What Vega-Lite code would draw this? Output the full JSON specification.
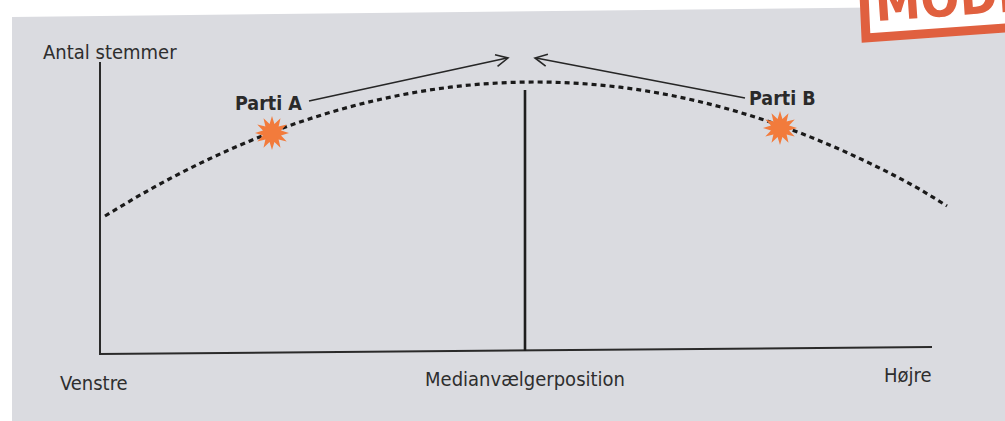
{
  "$schema": "https://vega.github.io/schema/vega-lite/v6.json",
  "width": 1005,
  "height": 421,
  "autosize": {"type": "fit", "contains": "padding"},
  "padding": 0,
  "background": "white",
  "config": {"view": {"stroke": null}},
  "datasets": {
    "bg": [{"x": 12, "y": 17, "y2": 421}, {"x": 1005, "y": 6, "y2": 421}],
    "stampFill": [{"x": 866, "y": -10, "y2": 38}, {"x": 1005, "y": -10, "y2": 28}],
    "stampBorder": [{"o": 1, "x": 864, "y": -6}, {"o": 2, "x": 866, "y": 38}, {"o": 3, "x": 1012, "y": 27.5}],
    "stampText": [{"x": 876, "y": 21, "t": "MODEL"}],
    "curve": [
      {"x": 105, "y": 216}, {"x": 150, "y": 189.5}, {"x": 200, "y": 163.4}, {"x": 250, "y": 140.9},
      {"x": 300, "y": 122}, {"x": 350, "y": 106.8}, {"x": 400, "y": 95.2}, {"x": 450, "y": 87.2},
      {"x": 500, "y": 82.9}, {"x": 535, "y": 82}, {"x": 570, "y": 82.9}, {"x": 620, "y": 87.2},
      {"x": 670, "y": 95.2}, {"x": 720, "y": 106.8}, {"x": 770, "y": 122}, {"x": 820, "y": 140.9},
      {"x": 870, "y": 163.4}, {"x": 920, "y": 189.5}, {"x": 947, "y": 206}
    ],
    "axes": [{"x": 100, "y": 62, "x2": 100, "y2": 355}, {"x": 99, "y": 354, "x2": 932, "y2": 347}],
    "median": [{"x": 525, "y": 90, "x2": 525, "y2": 351}],
    "arrows": [{"x": 309, "y": 101, "x2": 507, "y2": 58}, {"x": 745, "y": 98, "x2": 536, "y2": 58}],
    "heads": [{"x": 508, "y": 58, "ang": 347.8}, {"x": 535, "y": 58, "ang": 190.8}],
    "stars": [{"x": 272, "y": 133}, {"x": 780, "y": 128}],
    "leftLabels": [
      {"x": 43, "y": 59, "t": "Antal stemmer"},
      {"x": 60, "y": 390, "t": "Venstre"},
      {"x": 884, "y": 382, "t": "Højre"}
    ],
    "midLabel": [{"x": 525, "y": 386, "t": "Medianvælgerposition"}],
    "parties": [{"x": 235, "y": 110, "t": "Parti A"}, {"x": 749, "y": 105, "t": "Parti B"}]
  },
  "encoding": {
    "x": {"field": "x", "type": "quantitative", "scale": {"domain": [0, 1005], "nice": false, "zero": false}, "axis": null},
    "y": {"field": "y", "type": "quantitative", "scale": {"domain": [0, 421], "nice": false, "zero": false, "reverse": true}, "axis": null}
  },
  "layer": [
    {"data": {"name": "bg"}, "mark": {"type": "area", "color": "#dadbe0", "opacity": 1}, "encoding": {"y2": {"field": "y2"}}},
    {"data": {"name": "stampFill"}, "mark": {"type": "area", "color": "#ffffff", "opacity": 1, "clip": true}, "encoding": {"y2": {"field": "y2"}}},
    {"data": {"name": "stampText"}, "mark": {"type": "text", "align": "left", "baseline": "alphabetic", "font": "DejaVu Sans Condensed, DejaVu Sans", "fontWeight": "bold", "fontSize": 51, "angle": 356, "color": "#e0603f", "clip": true}, "encoding": {"text": {"field": "t"}}},
    {"data": {"name": "stampBorder"}, "mark": {"type": "line", "color": "#e0603f", "strokeWidth": 9, "strokeJoin": "miter", "clip": true}, "encoding": {"order": {"field": "o"}}},
    {"data": {"name": "axes"}, "mark": {"type": "rule", "color": "#2a2a2a", "strokeWidth": 2}, "encoding": {"x2": {"field": "x2"}, "y2": {"field": "y2"}}},
    {"data": {"name": "median"}, "mark": {"type": "rule", "color": "#1e1e1e", "strokeWidth": 2.6}, "encoding": {"x2": {"field": "x2"}, "y2": {"field": "y2"}}},
    {"data": {"name": "curve"}, "mark": {"type": "line", "color": "#1a1a1a", "strokeWidth": 3.2, "strokeDash": [5, 4], "interpolate": "monotone"}, "encoding": {}},
    {"data": {"name": "arrows"}, "mark": {"type": "rule", "color": "#262626", "strokeWidth": 1.6}, "encoding": {"x2": {"field": "x2"}, "y2": {"field": "y2"}}},
    {"data": {"name": "heads"}, "mark": {"type": "point", "shape": "M-1,-0.5L0,0L-1,0.5", "filled": false, "stroke": "#262626", "strokeWidth": 1.6, "size": 576, "opacity": 1}, "encoding": {"angle": {"field": "ang", "type": "quantitative", "scale": null}}},
    {"data": {"name": "stars"}, "mark": {"type": "point", "shape": "M0,-1L0.142,-0.531L0.5,-0.866L0.389,-0.389L0.866,-0.5L0.531,-0.142L1,0L0.531,0.142L0.866,0.5L0.389,0.389L0.5,0.866L0.142,0.531L0,1L-0.142,0.531L-0.5,0.866L-0.389,0.389L-0.866,0.5L-0.531,0.142L-1,0L-0.531,-0.142L-0.866,-0.5L-0.389,-0.389L-0.5,-0.866L-0.142,-0.531Z", "filled": true, "fill": "#f27b3c", "stroke": null, "size": 1156, "opacity": 1}},
    {"data": {"name": "leftLabels"}, "mark": {"type": "text", "align": "left", "baseline": "alphabetic", "font": "DejaVu Sans Condensed, DejaVu Sans", "fontSize": 20, "color": "#2e2e2e"}, "encoding": {"text": {"field": "t"}}},
    {"data": {"name": "midLabel"}, "mark": {"type": "text", "align": "center", "baseline": "alphabetic", "font": "DejaVu Sans Condensed, DejaVu Sans", "fontSize": 20, "color": "#2e2e2e"}, "encoding": {"text": {"field": "t"}}},
    {"data": {"name": "parties"}, "mark": {"type": "text", "align": "left", "baseline": "alphabetic", "font": "DejaVu Sans Condensed, DejaVu Sans", "fontWeight": "bold", "fontSize": 19.5, "color": "#2a2a2a"}, "encoding": {"text": {"field": "t"}}}
  ]
}
